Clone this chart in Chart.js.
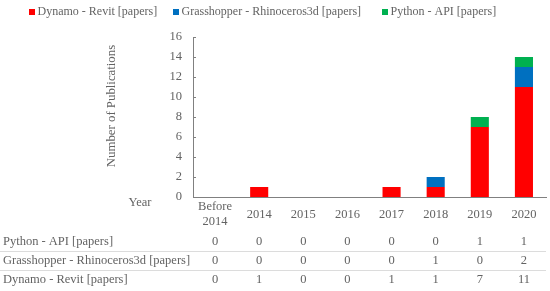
<!DOCTYPE html>
<html lang="en">
<head>
    <meta charset="UTF-8">
    <title>Publications per year</title>
    <script src="https://cdn.jsdelivr.net/npm/chart.js"></script>
    <style>
        body { margin: 0; padding: 0; background: #ffffff; }
        .wrap { width: 550px; height: 291px; position: relative; }
    </style>
</head>
<body>
    <div class="wrap"><canvas id="pubChart"></canvas></div>
    <script>
        // data
        const years = ['Before 2014', '2014', '2015', '2016', '2017', '2018', '2019', '2020'];
        const dynamoRevit = [0, 1, 0, 0, 1, 1, 7, 11];
        const grasshopperRhino = [0, 0, 0, 0, 0, 1, 0, 2];
        const pythonApi = [0, 0, 0, 0, 0, 0, 1, 1];
        const seriesNames = ['Dynamo - Revit [papers]', 'Grasshopper - Rhinoceros3d [papers]', 'Python - API [papers]'];
        const yTicks = [0, 2, 4, 6, 8, 10, 12, 14, 16];

        const FONT = '"Liberation Serif", "DejaVu Serif", serif';
        const TEXT = '#636363';
        const AXIS = '#808080';
        const colors = ['#ff0000', '#0070c0', '#00b050'];

        // legend, axis title, inner ticks and data table drawn here
        const extras = {
            id: 'extras',
            afterDraw(chart) {
                const ctx = chart.ctx;
                const x = chart.scales.x;
                const y = chart.scales.y;
                const area = chart.chartArea;
                ctx.save();
                ctx.fillStyle = TEXT;
                ctx.textBaseline = 'middle';

                // legend
                ctx.font = '12px ' + FONT;
                const legendX = [29, 173, 382];
                seriesNames.forEach((name, i) => {
                    ctx.fillStyle = colors[i];
                    ctx.fillRect(legendX[i], 9, 6, 6);
                    ctx.fillStyle = TEXT;
                    ctx.textAlign = 'left';
                    ctx.fillText(name, legendX[i] + 8.5, 12);
                });

                ctx.font = '12.5px ' + FONT;

                // inside tick marks on y axis
                ctx.strokeStyle = AXIS;
                ctx.lineWidth = 1;
                yTicks.forEach(v => {
                    if (v === 0) return;
                    const py = Math.round(y.getPixelForValue(v)) + 0.5;
                    ctx.beginPath();
                    ctx.moveTo(area.left, py);
                    ctx.lineTo(area.left + 3, py);
                    ctx.stroke();
                });

                // y axis title
                ctx.save();
                ctx.translate(112, 106);
                ctx.rotate(-Math.PI / 2);
                ctx.textAlign = 'center';
                ctx.font = '12.8px ' + FONT;
                ctx.fillText('Number of Publications', 0, 0);
                ctx.restore();

                // year row
                ctx.textAlign = 'center';
                ctx.fillText('Year', 140, 203);
                years.forEach((yr, i) => {
                    const px = x.getPixelForValue(i);
                    const parts = yr.split(' ');
                    if (parts.length > 1) {
                        ctx.fillText(parts[0], px, 207);
                        ctx.fillText(parts[1], px, 222);
                    } else {
                        ctx.fillText(yr, px, 214.5);
                    }
                });

                // data table
                const rows = [
                    [seriesNames[2], pythonApi, 241.5],
                    [seriesNames[1], grasshopperRhino, 260.5],
                    [seriesNames[0], dynamoRevit, 279.5]
                ];
                rows.forEach(r => {
                    ctx.textAlign = 'left';
                    ctx.fillText(r[0], 3, r[2]);
                    ctx.textAlign = 'center';
                    r[1].forEach((v, i) => ctx.fillText(String(v), x.getPixelForValue(i), r[2]));
                });
                ctx.strokeStyle = '#dcdcdc';
                [251.5, 270.5].forEach(ly => {
                    ctx.beginPath();
                    ctx.moveTo(0, ly);
                    ctx.lineTo(546, ly);
                    ctx.stroke();
                });
                ctx.restore();
            }
        };

        new Chart(document.getElementById('pubChart'), {
            type: 'bar',
            data: {
                labels: years,
                datasets: [
                    { label: seriesNames[0], data: dynamoRevit, backgroundColor: colors[0] },
                    { label: seriesNames[1], data: grasshopperRhino, backgroundColor: colors[1] },
                    { label: seriesNames[2], data: pythonApi, backgroundColor: colors[2] }
                ]
            },
            options: {
                responsive: true,
                maintainAspectRatio: false,
                animation: false,
                layout: { padding: { left: 0, right: 4, top: 37, bottom: 94 } },
                datasets: { bar: { categoryPercentage: 1, barPercentage: 0.41 } },
                plugins: { legend: { display: false }, tooltip: { enabled: false } },
                scales: {
                    x: {
                        stacked: true,
                        grid: { display: false },
                        border: { color: AXIS, width: 1 },
                        ticks: { display: false },
                        afterFit: s => { s.height = 0; }
                    },
                    y: {
                        stacked: true,
                        min: 0,
                        max: 16,
                        afterBuildTicks: s => { s.ticks = yTicks.map(v => ({ value: v })); },
                        grid: { display: false, drawTicks: false },
                        border: { color: AXIS, width: 1 },
                        ticks: { color: TEXT, padding: 11, font: { family: FONT, size: 12.5 } },
                        afterFit: s => { s.width = 193; }
                    }
                }
            },
            plugins: [extras]
        });
    </script>
</body>
</html>
